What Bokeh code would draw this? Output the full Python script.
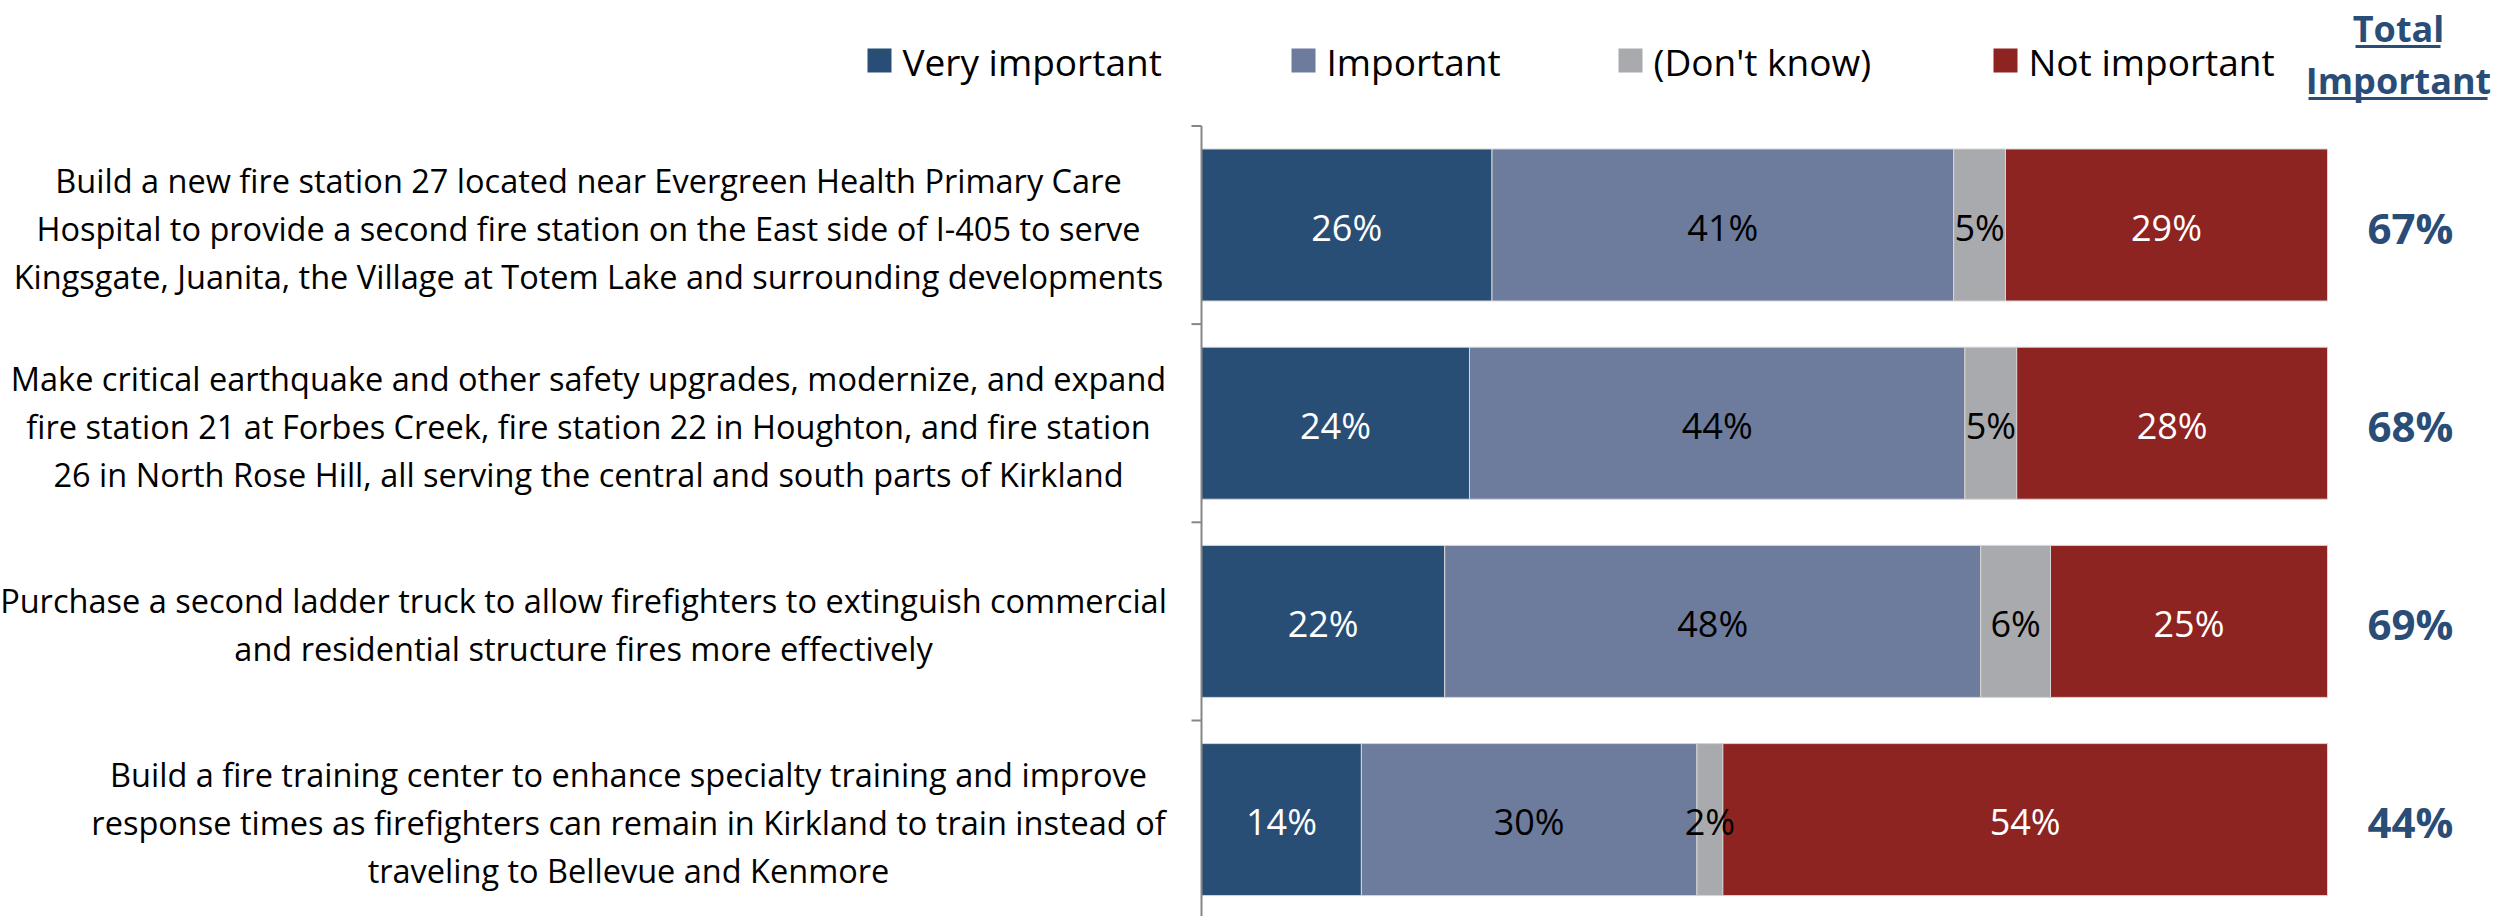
from bokeh.plotting import figure
from bokeh.models import ColumnDataSource, Range1d
from bokeh.core.properties import value
from bokeh.embed import file_html
from bokeh.resources import INLINE
import math

# ---------------- data ----------------
categories = [
    "Build a new fire station 27 located near Evergreen Health Primary Care\n"
    "Hospital to provide a second fire station on the East side of I-405 to serve\n"
    "Kingsgate, Juanita, the Village at Totem Lake and surrounding developments",
    "Make critical earthquake and other safety upgrades, modernize, and expand\n"
    "fire station 21 at Forbes Creek, fire station 22 in Houghton, and fire station\n"
    "26 in North Rose Hill, all serving the central and south parts of Kirkland",
    "Purchase a second ladder truck to allow firefighters to extinguish commercial\n"
    "and residential structure fires more effectively",
    "Build a fire training center to enhance specialty training and improve\n"
    "response times as firefighters can remain in Kirkland to train instead of\n"
    "traveling to Bellevue and Kenmore",
]
series = ["Very important", "Important", "(Don't know)", "Not important"]
very_important = [25.8, 23.8, 21.6, 14.2]
important = [41.0, 44.0, 47.6, 29.8]
dont_know = [4.6, 4.6, 6.2, 2.3]
not_important = [28.6, 27.6, 24.6, 53.7]
total_important = [67, 68, 69, 44]
total_header = ["Total", "Important"]

# ---------------- style / layout ----------------
colors = ["#294E76", "#6D7C9D", "#A9AAAD", "#8E2422"]
label_colors = ["white", "black", "black", "white"]
total_color = "#2A4D78"
FONT = value("Open Sans")

W, H = 2504, 916
OFF = 0
AXIS_FX = 1201 - OFF         # axis position in figure px
END_FX = 2327 - OFF          # 100% position in figure px
PXU = (END_FX - AXIS_FX) / 100.0
BAND = 198.2
BAND_TOP = 125.4 - OFF

def dx(full_x):
    return (full_x - OFF - AXIS_FX) / PXU

def dy(full_y):
    return -0.5 + (full_y - OFF - BAND_TOP) / BAND

p = figure(width=W, height=H, output_backend="svg", toolbar_location=None,
           x_range=Range1d(-AXIS_FX / PXU, (W - AXIS_FX) / PXU),
           y_range=Range1d(-0.5 + (H - BAND_TOP) / BAND, -0.5 - BAND_TOP / BAND),
           x_axis_location=None, y_axis_location=None, min_border=0,
           tools="")
p.outline_line_color = None
p.grid.visible = False
p.background_fill_color = "white"
p.border_fill_color = "white"

n = len(categories)
rows = list(range(n))
keys = ["vi", "imp", "dk", "ni"]
data = dict(y=rows, vi=very_important, imp=important, dk=dont_know, ni=not_important)
src = ColumnDataSource(data)
p.hbar_stack(keys, y="y", height=0.767, color=colors, source=src,
             line_color="#D6D6D6", line_width=1)

# axis line and tick marks (category boundaries)
p.segment(x0=[0], y0=[-0.5], x1=[0], y1=[n - 0.5], line_color="#868686", line_width=2)
bounds = [i - 0.5 for i in range(n + 1)]
p.ray(x=[0] * len(bounds), y=bounds, length=10, length_units="screen",
      angle=math.pi, line_color="#868686", line_width=2)

# value labels inside bars
vals = [very_important, important, dont_know, not_important]
lx, ly, lt, lc = [], [], [], []
for i in rows:
    cum = 0.0
    for s in range(4):
        v = vals[s][i]
        lx.append(cum + v / 2.0)
        ly.append(i)
        lt.append("%d%%" % round(v))
        lc.append(label_colors[s])
        cum += v
p.text(x=lx, y=ly, text=lt, text_color=lc, text_font=FONT, text_font_size="36px",
       text_align="center", text_baseline="middle", y_offset=2)

# totals
p.text(x=[dx(2410)] * n, y=rows, text=["%d%%" % t for t in total_important],
       text_color=total_color, text_font=FONT, text_font_size="42px",
       text_font_style="bold", text_align="center", text_baseline="middle", y_offset=2)

# header
p.text(x=[dx(2398)] * 2, y=[dy(28), dy(80)], text=total_header,
       text_color=total_color, text_font=FONT, text_font_size="36px",
       text_font_style="bold", text_align="center", text_baseline="middle")
p.segment(x0=[dx(2355), dx(2308)], y0=[dy(46), dy(98)],
          x1=[dx(2440), dx(2487)], y1=[dy(46), dy(98)],
          line_color=total_color, line_width=3)

# category labels (multi-line, centred in a right-aligned box)
LABEL_CX = [588, 588, 583, 628]
LINE_H = 48
cx, cy, ct, co = [], [], [], []
for i, cat in enumerate(categories):
    lines = cat.split("\n")
    m = len(lines)
    for j, ln in enumerate(lines):
        cx.append(dx(LABEL_CX[i]))
        cy.append(i)
        ct.append(ln)
        co.append((j - (m - 1) / 2.0) * LINE_H + 3)
p.text(x=cx, y=cy, text=ct, y_offset=co, text_color="black", text_font=FONT,
       text_font_size="32.5px", text_align="center", text_baseline="middle")

# legend
LEG_X = [879, 1303, 1630, 2005]
LEG_Y = 60
p.rect(x=[dx(v) for v in LEG_X], y=[dy(LEG_Y)] * 4, width=24, height=24,
       width_units="screen", height_units="screen", fill_color=colors, line_color=None)
p.text(x=[dx(v + 23) for v in LEG_X], y=[dy(LEG_Y)] * 4, text=series,
       text_color="black", text_font=FONT, text_font_size="37px",
       text_align="left", text_baseline="middle", y_offset=1)

open("out.html", "w").write(file_html(p, INLINE))
